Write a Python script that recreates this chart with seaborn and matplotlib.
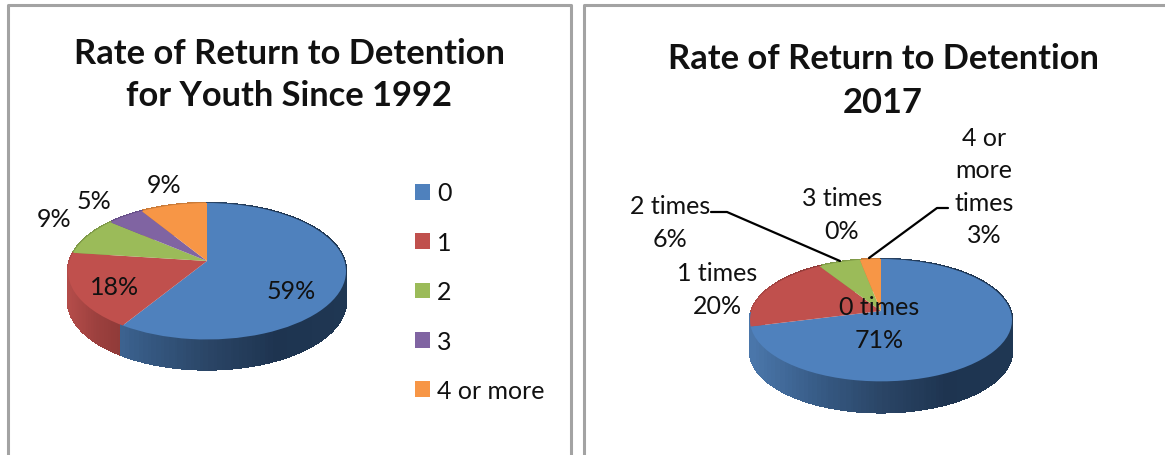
import numpy as np
import matplotlib
matplotlib.use("Agg")
import matplotlib.pyplot as plt
from matplotlib.transforms import Transform, Affine2D
import seaborn as sns

# ---- data ----
categories_left = ["0", "1", "2", "3", "4 or more"]
values_left = [59, 18, 9, 5, 9]
categories_right = ["0 times", "1 times", "2 times", "3 times", "4 or more times"]
values_right = [71, 20, 6, 0, 3]
title_left = "Rate of Return to Detention\nfor Youth Since 1992"
title_right = "Rate of Return to Detention\n2017"

sns.set_theme(style="white")
plt.rcParams["font.family"] = ["Lato", "DejaVu Sans"]

colors = sns.color_palette(["#4F81BD", "#C0504D", "#9BBB59", "#8064A2", "#F79646"])
side_ramps = [
    ["#4a76aa", "#375b86", "#2a4566", "#1e3450", "#1f3753"],
    ["#b34c49", "#9c403e", "#8f3a38"],
    ["#7f9a48", "#7f9a48"],
    ["#68508a", "#68508a"],
    ["#c97a38", "#c97a38"],
]
BLACK = "#111111"
FRAME = "#a3a3a3"


class Persp(Transform):
    """Tilted view: the far side of the disc shrinks, the near side grows."""
    input_dims = output_dims = 2
    is_separable = False
    has_inverse = False

    def __init__(self, k):
        super().__init__()
        self.k = k

    def transform_non_affine(self, xy):
        xy = np.asarray(xy, dtype=float)
        w = 1 + self.k * xy[:, 1]
        return np.column_stack([xy[:, 0] / w, xy[:, 1] / w])


fig = plt.figure(figsize=(11.65, 4.56), dpi=100, facecolor="white")
ax = fig.add_axes([0, 0, 1, 1])


def pie3d(values, cx, cy, rx, top, depth, k=0.15):
    sx = rx / (1 / np.sqrt(1 - k ** 2))
    sy = (cy - top) * (1 + k)
    pers = Persp(k)
    place = Affine2D().scale(sx, -sy).translate(cx, cy)
    # side wall, slice by slice (first slice last, so that it lies on top)
    cum = np.concatenate([[0], np.cumsum(values)]) / np.sum(values) * 360
    for i in reversed(range(len(values))):
        a0, a1 = cum[i], cum[i + 1]
        if a1 <= a0:
            continue
        if i == 0 and a1 > 250:
            a1 = max(a1, 268)
        th = np.radians(np.arange(a0, a1 + 1.0, 1.0))
        pts = np.column_stack([np.sin(th), np.cos(th)])
        px = place.transform(pers.transform_non_affine(pts))
        ramp = sns.blend_palette(side_ramps[i], 64)
        for j in range(len(px) - 1):
            mid = 0.5 * (px[j, 0] + px[j + 1, 0])
            frac = (mid - px[:, 0].min()) / max(np.ptp(px[:, 0]), 1)
            if i == 0:
                frac = (mid - (cx - rx)) / (2 * rx)
            c = ramp[int(np.clip(frac, 0, 0.999) * 64)]
            ax.fill(
                [px[j, 0], px[j + 1, 0], px[j + 1, 0], px[j, 0]],
                [px[j, 1], px[j + 1, 1], px[j + 1, 1] + depth, px[j, 1] + depth],
                color=c, lw=1.0, antialiased=False, zorder=1,
            )
    # top face
    wedges, _ = ax.pie(values, colors=colors, startangle=90, counterclock=False,
                       radius=1, wedgeprops={"linewidth": 0})
    for w in wedges:
        w.set_transform(pers + place + ax.transData)
        w.set_zorder(2)
    return wedges


wedges_left = pie3d(values_left, 207, 262, 139, 204, 30)
wedges_right = pie3d(values_right, 881, 312, 131, 260, 31)

ax.set_aspect("auto")
ax.set_xlim(0, 1165)
ax.set_ylim(456, 0)
ax.axis("off")

# panel frames
ax.plot([8, 8, 571, 571], [456, 5.5, 5.5, 456], color=FRAME, lw=2.2, zorder=0)
ax.plot([584, 584, 1165], [456, 5.5, 5.5], color=FRAME, lw=2.2, zorder=0)

# titles
TS = 24.8
ax.text(289, 75, title_left, ha="center", va="center", fontsize=TS, fontweight="bold",
        color=BLACK, linespacing=1.38, zorder=5)
ax.text(883, 81, title_right, ha="center", va="center", fontsize=TS, fontweight="bold",
        color=BLACK, linespacing=1.44, zorder=5)

# data labels
FS = 18
lab = dict(ha="center", va="center", fontsize=FS, color=BLACK, zorder=5, linespacing=1.5)
for (x, y), v in zip([(291, 292), (115, 288), (54, 220), (94, 202), (164, 186)], values_left):
    ax.text(x, y, f"{v}%", **lab)
for (x, y), name, v in zip(
    [(879, 324), (717, 290), (670, 223), (842, 215)],
    categories_right[:4], values_right[:4],
):
    ax.text(x, y, f"{name}\n{v}%", **lab)
ax.text(984, 187, f"4 or\nmore\ntimes\n{values_right[4]}%", **lab)

# leader lines
ax.plot([711, 727, 840], [213, 213, 262], color="black", lw=1.6, zorder=4)
ax.plot([948, 937, 869], [209, 209, 259], color="black", lw=1.6, zorder=4)

# legend
ax.legend(wedges_left, categories_left, loc="upper left",
          bbox_to_anchor=(392.5 / 1165, 1 - 160 / 456),
          frameon=False, fontsize=FS, handlelength=0.6, handleheight=0.6,
          handletextpad=0.28, labelspacing=1.056, labelcolor=BLACK, borderpad=0.4)

fig.savefig("out.png", dpi=100)
